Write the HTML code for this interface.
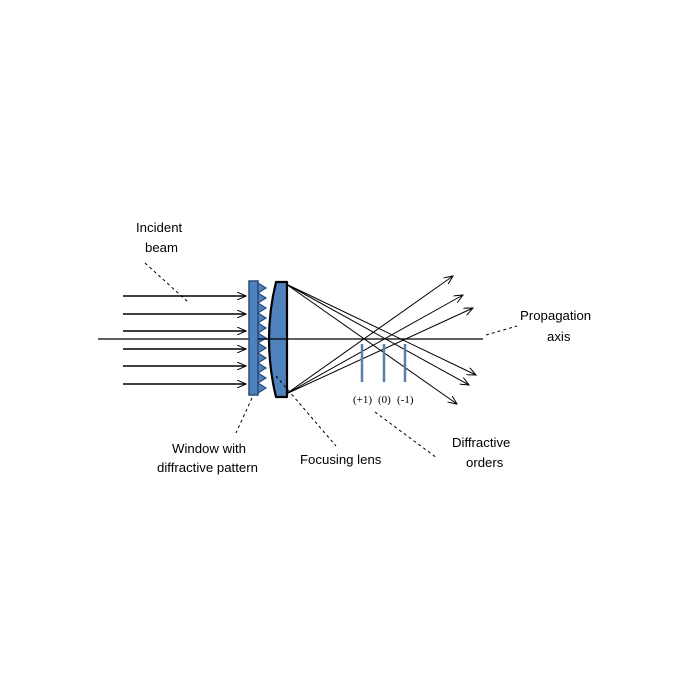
<!DOCTYPE html><html><head><style>body{margin:0;background:#fff}svg{display:block}text{font-family:"Liberation Sans",sans-serif;font-size:13.2px;fill:#000}</style></head><body>
<svg width="700" height="700" viewBox="0 0 700 700">
<defs><marker id="a" markerWidth="10" markerHeight="8" refX="9" refY="4" orient="auto" markerUnits="userSpaceOnUse"><path d="M0,0 L9,4 L0,8" fill="none" stroke="#000" stroke-width="1"/></marker></defs>
<g stroke="#000" stroke-width="1.5" marker-end="url(#a)">
<line x1="123" y1="296" x2="246" y2="296"/><line x1="123" y1="314" x2="246" y2="314"/><line x1="123" y1="331" x2="246" y2="331"/><line x1="123" y1="349" x2="246" y2="349"/><line x1="123" y1="366" x2="246" y2="366"/><line x1="123" y1="384" x2="246" y2="384"/></g>
<line x1="98" y1="339" x2="483" y2="339" stroke="#000" stroke-width="1.2"/>
<rect x="249" y="281" width="9" height="114" fill="#4f81bd" stroke="#2a4a7a" stroke-width="1.5"/>
<path d="M258,283 L266,288 L258,293 L266,298 L258,303 L266,308 L258,313 L266,318 L258,323 L266,328 L258,333 L266,338 L258,343 L266,348 L258,353 L266,358 L258,363 L266,368 L258,373 L266,378 L258,383 L266,388 L258,393 Z" fill="#4f81bd" stroke="#2a4a7a" stroke-width="1.2"/>
<path d="M276,282 L287,282 L287,397 L276,397 Q262,339 276,282 Z" fill="#4f81bd" stroke="#000" stroke-width="2.2" stroke-linejoin="round"/>
<line x1="258" y1="339" x2="287" y2="339" stroke="#000" stroke-width="1.2"/>
<g stroke="#000" stroke-width="1" marker-end="url(#a)">
<line x1="286" y1="284" x2="457" y2="404"/><line x1="286" y1="284" x2="469" y2="385"/><line x1="286" y1="284" x2="476" y2="375"/>
<line x1="286" y1="394" x2="453" y2="276"/><line x1="286" y1="394" x2="463" y2="295"/><line x1="286" y1="394" x2="473" y2="308"/></g>
<g stroke="#5b7fa6" stroke-width="2.5"><line x1="362" y1="344" x2="362" y2="382"/><line x1="384" y1="344" x2="384" y2="382"/><line x1="405" y1="344" x2="405" y2="382"/></g>
<g stroke="#000" stroke-width="1" stroke-dasharray="3,3" fill="none">
<line x1="145" y1="263" x2="188" y2="302"/><line x1="252" y1="398" x2="236" y2="433"/><line x1="276" y1="376" x2="336" y2="446"/><line x1="375" y1="412" x2="437" y2="458"/><line x1="486" y1="335" x2="517" y2="326"/></g>
<text x="136" y="232">Incident</text><text x="145" y="252">beam</text>
<text x="172" y="453">Window with</text><text x="157" y="472">diffractive pattern</text>
<text x="300" y="464">Focusing lens</text>
<text x="452" y="447">Diffractive</text><text x="466" y="467">orders</text>
<text x="520" y="320">Propagation</text><text x="547" y="341">axis</text>
<text x="353" y="403" style="font-family:'Liberation Serif',serif;font-size:11px">(+1)</text>
<text x="378" y="403" style="font-family:'Liberation Serif',serif;font-size:11px">(0)</text>
<text x="397" y="403" style="font-family:'Liberation Serif',serif;font-size:11px">(-1)</text>
</svg></body></html>
